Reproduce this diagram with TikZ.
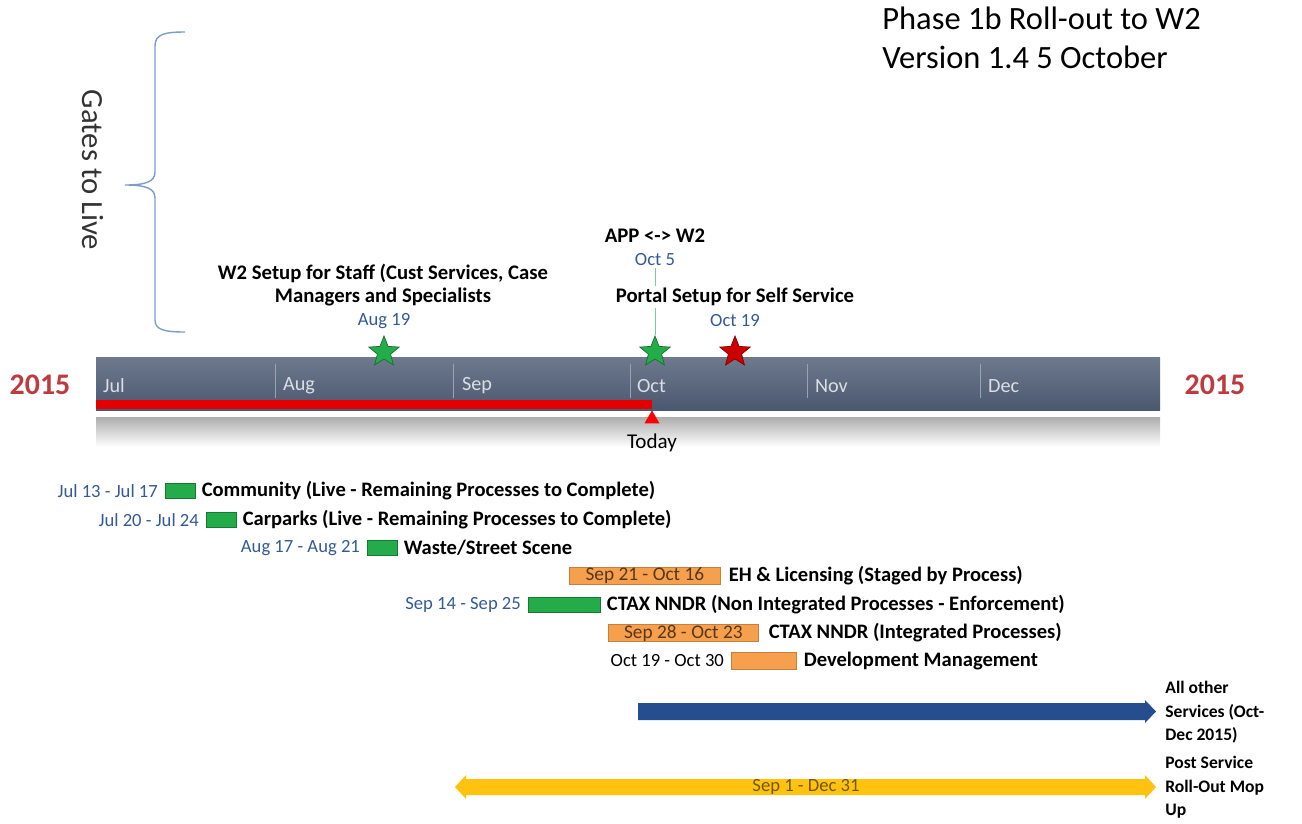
\documentclass[tikz,border=0pt]{standalone}
\usepackage{fontspec}
\setmainfont{Carlito}
\usepackage{xcolor}
\usetikzlibrary{positioning,calc,arrows.meta,shapes.geometric}

\definecolor{slate}{RGB}{74,88,112}
\definecolor{yearred}{RGB}{190,58,62}
\definecolor{datblue}{RGB}{50,90,150}
\definecolor{barGreen}{RGB}{36,172,74}
\definecolor{barOrange}{RGB}{246,160,78}
\definecolor{arrowBlue}{RGB}{38,78,142}
\definecolor{arrowYellow}{RGB}{255,194,14}
\definecolor{braceBlue}{RGB}{125,155,205}

\begin{document}
\begin{tikzpicture}[
    x=0.02cm, y=-0.02cm,
    every node/.style={font=\fontsize{10}{12}\selectfont},
    datelbl/.style={font=\fontsize{10.6}{12}\selectfont, text=datblue, inner sep=1pt},
    tasklbl/.style={font=\fontsize{11.7}{13}\selectfont\bfseries, inner sep=1pt},
    greenbar/.style={rectangle, fill=barGreen, draw=barGreen!70!black, minimum height=0.3cm, inner sep=0pt},
    orangebar/.style={rectangle, fill=barOrange, draw=barOrange!80!black, minimum height=0.35cm, inner sep=0pt, font=\fontsize{11}{12}\selectfont, text=black!65!barOrange},
    month/.style={font=\fontsize{11.5}{13}\selectfont, text=white!80!slate, anchor=west, inner sep=1pt},
    msttl/.style={font=\fontsize{11.8}{13.6}\selectfont\bfseries, align=center, inner sep=1pt},
    star5/.style={star, star points=5, star point ratio=2.3, minimum size=0.64cm, inner sep=0pt, draw=#1!65!black, fill=#1},
    year/.style={font=\fontsize{17}{20}\selectfont\bfseries, text=yearred},
    sidelbl/.style={font=\fontsize{10}{13.4}\selectfont\bfseries, align=left, anchor=north west, inner sep=0pt},
]
\useasboundingbox (0,0) rectangle (1302,823);

% Title
\node[font=\fontsize{18.5}{22}\selectfont, align=left, anchor=north west, inner sep=0pt] (title) at (882,7) {Phase 1b Roll-out to W2\\Version 1.4 5 October};

% Gates to Live brace
\draw[braceBlue, thick] (185,32) .. controls (165,32) and (155,34) .. (155,46) -- (155,172)
    .. controls (155,182) and (145,185) .. (125,185) .. controls (145,185) and (155,188) .. (155,198)
    -- (155,320) .. controls (155,330) and (165,332) .. (185,332);
\node[font=\fontsize{17.5}{20}\selectfont, rotate=-90, text=black!80] (gates) at (93,170) {Gates to Live};

% Timeline bar
\shade[top color=black!32, bottom color=white] (96,417) rectangle (1160,447);
\shade[top color=slate!80!white, bottom color=slate] (96,357) rectangle (1160,410);
\fill[red!90!black] (96,400) rectangle (652,409);
\draw[white!45!slate] (275,364) -- (275,398);
\draw[white!45!slate] (453,364) -- (453,398);
\draw[white!45!slate] (630,364) -- (630,398);
\draw[white!45!slate] (807,364) -- (807,398);
\draw[white!45!slate] (980,364) -- (980,398);
\node[month] (jul) at (101,386) {Jul};
\node[month] (aug) at (281,386) {Aug};
\node[month] (sep) at (460,386) {Sep};
\node[month] (oct) at (635,386) {Oct};
\node[month] (nov) at (813,386) {Nov};
\node[month] (dec) at (986,386) {Dec};
\node[year] (yearleft) at (40,385) {2015};
\node[year] (yearright) at (1215,385) {2015};

% Today marker
\node[fill=red, isosceles triangle, isosceles triangle apex angle=60, shape border rotate=90, inner sep=0pt, minimum height=0.26cm] (todaymark) at (652,419) {};
\node[below=2pt of todaymark, font=\fontsize{12}{13}\selectfont] (today) {Today};

% Milestones
\node[star5=barGreen] (augstar) at (384,352) {};
\node[star5=barGreen] (appstar) at (655,352) {};
\node[star5=red!80!black] (portalstar) at (735,352) {};
\node[datelbl] (aug19) at (384,321) {Aug 19};
\node[msttl] (w2setup) at (383,285) {W2 Setup for Staff (Cust Services, Case\\Managers and Specialists};
\node[msttl] (app) at (655,236) {APP <-> W2};
\node[datelbl] (oct5) at (655,260) {Oct 5};
\draw[barGreen!60, thin] (oct5) -- (appstar);
\node[msttl, fill=white] (portal) at (735,297) {Portal Setup for Self Service};
\node[datelbl] (oct19) at (735,321) {Oct 19};

% Tasks
\node[greenbar, minimum width=0.6cm, anchor=west] (community) at (165,491) {};
\node[datelbl, left=0.1cm of community] (communitydate) {Jul 13 - Jul 17};
\node[tasklbl, right=0.08cm of community] (communitytxt) {Community (Live - Remaining Processes to Complete)};

\node[greenbar, minimum width=0.6cm, anchor=west] (carparks) at (206,520) {};
\node[datelbl, left=0.1cm of carparks] (carparksdate) {Jul 20 - Jul 24};
\node[tasklbl, right=0.08cm of carparks] (carparkstxt) {Carparks (Live - Remaining Processes to Complete)};

\node[greenbar, minimum width=0.6cm, anchor=west] (waste) at (367,548) {};
\node[datelbl, left=0.1cm of waste] (wastedate) {Aug 17 - Aug 21};
\node[tasklbl, right=0.08cm of waste] (wastetxt) {Waste/Street Scene};

\node[orangebar, minimum width=3.02cm, anchor=west] (eh) at (569,576) {Sep 21 - Oct 16};
\node[tasklbl, right=0.12cm of eh] (ehtxt) {EH \& Licensing (Staged by Process)};

\node[greenbar, minimum width=1.44cm, anchor=west] (ctaxnon) at (528,605) {};
\node[datelbl, left=0.1cm of ctaxnon] (ctaxnondate) {Sep 14 - Sep 25};
\node[tasklbl, right=0.08cm of ctaxnon] (ctaxnontxt) {CTAX NNDR (Non Integrated Processes - Enforcement)};

\node[orangebar, minimum width=3.0cm, anchor=west] (ctaxint) at (608,633) {Sep 28 - Oct 23};
\node[tasklbl, right=0.16cm of ctaxint] (ctaxinttxt) {CTAX NNDR (Integrated Processes)};

\node[orangebar, minimum width=1.3cm, anchor=west, minimum height=0.34cm] (devmgmt) at (731,661) {};
\node[datelbl, text=black, left=0.1cm of devmgmt] (devmgmtdate) {Oct 19 - Oct 30};
\node[tasklbl, right=0.1cm of devmgmt] (devmgmttxt) {Development Management};

% Long running work
\fill[arrowBlue] (638,703) -- (1145,703) -- (1145,700) -- (1156,711.5) -- (1145,723) -- (1145,720) -- (638,720) -- cycle;
\node[sidelbl] (allother) at (1165,681) {All other\\Services (Oct-\\Dec 2015)};

\fill[arrowYellow] (455,787) -- (466,775) -- (466,779) -- (1145,779) -- (1145,775) -- (1156,787)
    -- (1145,799) -- (1145,795) -- (466,795) -- (466,799) -- cycle;
\node[font=\fontsize{10.6}{12}\selectfont, text=black!55!arrowYellow] (mopdate) at (806,787) {Sep 1 - Dec 31};
\node[sidelbl] (mopup) at (1165,756) {Post Service\\Roll-Out Mop\\Up};

\end{tikzpicture}
\end{document}
